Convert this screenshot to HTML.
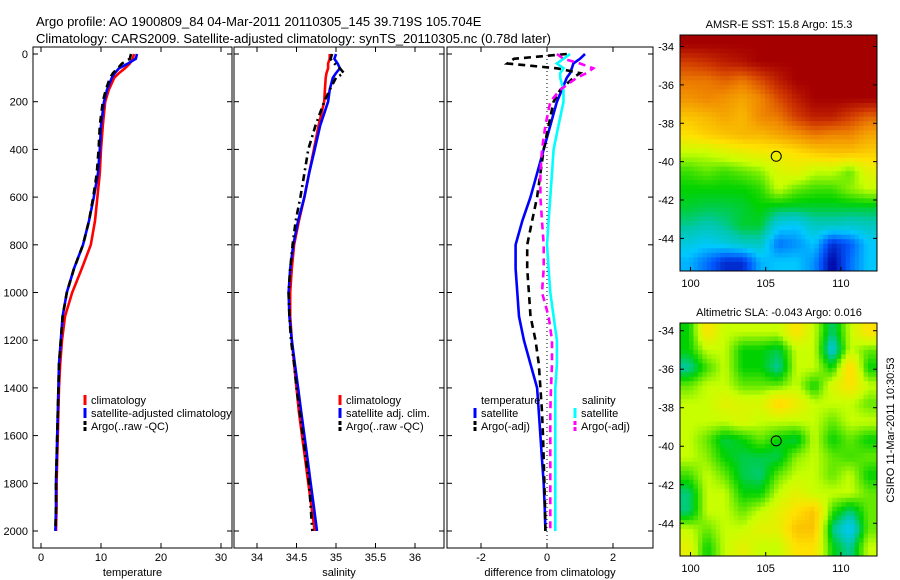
<!DOCTYPE html>
<html><head><meta charset="utf-8"><style>
body{margin:0;background:#fff}
svg{display:block;font-family:"Liberation Sans",sans-serif}
</style></head><body>
<svg id="c" width="900" height="580" xmlns="http://www.w3.org/2000/svg">
<text x="36" y="26" font-size="13">Argo profile: AO 1900809_84 04-Mar-2011 20110305_145 39.719S 105.704E</text>
<text x="36" y="43" font-size="13">Climatology: CARS2009. Satellite-adjusted climatology: synTS_20110305.nc (0.78d later)</text>
<text x="779" y="28" font-size="11" text-anchor="middle">AMSR-E SST: 15.8 Argo: 15.3</text>
<text x="779" y="316" font-size="11" text-anchor="middle">Altimetric SLA: -0.043 Argo: 0.016</text>
<text transform="translate(894,430) rotate(-90)" font-size="11" text-anchor="middle">CSIRO 11-Mar-2011 10:30:53</text>
<text x="327" y="518" font-size="11">US ARGO PROJECT</text>
<text x="327" y="531" font-size="11">PI: DEAN ROEMMICH</text>
</svg>
<script>
const depths=[0,20,40,60,80,100,150,200,300,400,500,600,700,800,900,1000,1100,1200,1300,1400,1500,1600,1700,1800,1900,2000];
const tempClim=[15.5,15.3,14.8,14,13,12.2,11.3,10.7,10.3,10,9.8,9.4,9,8.3,6.8,5.2,4,3.5,3.2,3,2.9,2.8,2.7,2.6,2.6,2.5];
const tempSat=[16,15.8,14.5,13,12.3,11.8,11,10.5,10,9.8,9.5,8.8,8,7,5.5,4.3,3.6,3.3,3,2.9,2.8,2.7,2.6,2.5,2.5,2.4];
const tempArgo=[15,14.8,13.5,12.8,12,11.5,10.8,10.3,9.8,9.6,9.3,8.7,8,7,5.5,4.3,3.6,3.3,3,2.9,2.8,2.7,2.6,2.5,2.5,2.4];
const salClim=[34.92,34.92,34.9,34.9,34.88,34.87,34.86,34.85,34.78,34.72,34.66,34.6,34.53,34.47,34.44,34.42,34.42,34.44,34.47,34.5,34.53,34.57,34.61,34.65,34.69,34.73];
const salSat=[35.0,34.98,35.02,35.05,35.0,34.96,34.92,34.9,34.8,34.73,34.66,34.6,34.52,34.46,34.42,34.4,34.41,34.44,34.48,34.52,34.56,34.6,34.64,34.68,34.72,34.76];
const salArgo=[34.95,34.93,34.98,35.05,35.1,35.0,34.92,34.85,34.74,34.65,34.6,34.55,34.49,34.45,34.42,34.4,34.41,34.43,34.47,34.5,34.54,34.58,34.62,34.66,34.68,34.7];
const dTempSat=[1.15,1.0,0.8,0.75,0.7,0.6,0.45,0.3,0.1,-0.1,-0.3,-0.5,-0.75,-0.95,-0.95,-0.9,-0.85,-0.7,-0.5,-0.3,-0.25,-0.2,-0.15,-0.1,-0.07,-0.05];
const dTempArgo=[0.6,-1.0,-1.2,0.3,1.0,0.8,0.4,0.2,0.05,-0.1,-0.2,-0.3,-0.45,-0.6,-0.6,-0.55,-0.5,-0.35,-0.25,-0.2,-0.15,-0.12,-0.1,-0.08,-0.06,-0.05];
const dSalSat=[0.7,0.5,0.3,0.5,0.4,0.4,0.5,0.5,0.35,0.2,0.15,0.1,0.05,0.0,0.05,0.1,0.2,0.3,0.3,0.25,0.25,0.25,0.25,0.25,0.25,0.25];
const dSalArgo=[0.3,0.5,1.0,1.4,1.2,0.9,0.4,0.1,-0.05,-0.15,-0.2,-0.2,-0.15,-0.1,-0.1,-0.15,0.05,0.15,0.15,0.12,0.1,0.1,0.1,0.1,0.1,0.1];
const depthTicks=[0,200,400,600,800,1000,1200,1400,1600,1800,2000];
const tempTicks=[0,10,20,30];
const salTicks=[34,34.5,35,35.5,36];
const diffTicks=[-2,0,2];
const sstGrid=[
[1,1,1,1,1,1,1,1,1,1,1],
[.9,.92,.95,.97,1,1,1,1,1,1,1],
[.82,.82,.85,.82,.88,.95,1,1,1,1,1],
[.78,.8,.78,.75,.8,.88,.95,1,1,1,1],
[.7,.72,.75,.72,.8,.82,.9,.95,.95,.9,.85],
[.65,.68,.7,.72,.72,.75,.78,.82,.8,.8,.75],
[.55,.55,.58,.6,.62,.62,.65,.68,.7,.7,.68],
[.48,.5,.48,.5,.52,.58,.6,.55,.55,.5,.6],
[.45,.45,.45,.45,.47,.55,.5,.48,.48,.52,.55],
[.43,.42,.42,.43,.45,.43,.43,.43,.43,.43,.43],
[.39,.37,.39,.43,.43,.32,.3,.36,.36,.35,.36],
[.33,.31,.33,.36,.36,.22,.25,.3,.15,.2,.3],
[.28,.22,.15,.15,.28,.3,.3,.25,.1,.22,.3]];
const slaGrid=[
[.45,.65,.55,.55,.55,.55,.65,.55,.4,.55,.65],
[.45,.55,.55,.45,.45,.42,.55,.55,.33,.55,.5],
[.38,.48,.55,.45,.45,.38,.55,.55,.45,.68,.45],
[.5,.55,.55,.5,.5,.5,.55,.45,.58,.65,.55],
[.55,.55,.6,.58,.58,.68,.62,.55,.55,.55,.5],
[.55,.55,.55,.58,.55,.55,.55,.55,.5,.55,.55],
[.55,.5,.42,.45,.5,.45,.42,.55,.45,.5,.45],
[.55,.52,.45,.42,.42,.42,.52,.55,.5,.48,.5],
[.48,.55,.5,.42,.4,.5,.55,.55,.5,.55,.45],
[.4,.55,.55,.45,.45,.55,.6,.55,.55,.55,.5],
[.4,.55,.55,.5,.55,.6,.65,.7,.48,.4,.5],
[.55,.5,.55,.55,.6,.6,.7,.7,.4,.3,.5],
[.6,.45,.55,.6,.55,.55,.65,.65,.45,.38,.55]];
const lonTicks=[100,105,110];
const latTicks=[-34,-36,-38,-40,-42,-44];
const argoLon=105.7, argoLat=-39.72;

const svg=document.getElementById('c');
const NS='http://www.w3.org/2000/svg';
function mk(tag,attrs,parent){const e=document.createElementNS(NS,tag);for(const k in attrs)e.setAttribute(k,attrs[k]);(parent||svg).appendChild(e);return e;}
const Y=d=>54+d*(531-54)/2000;
const panels=[
 {x0:33,x1:232,sx:v=>41+v*6,ticks:tempTicks,label:'temperature',name:'temperature-panel'},
 {x0:234,x1:444,sx:v=>257+(v-34)*79,ticks:salTicks,label:'salinity',name:'salinity-panel'},
 {x0:447,x1:653,sx:v=>547+v*33,ticks:diffTicks,label:'difference from climatology',name:'difference-panel'}];
panels.forEach((p,i)=>{
 const g=mk('g',{});
 
 
 mk('rect',{x:p.x0,y:47,width:p.x1-p.x0,height:501,fill:'#fff',stroke:'#000','stroke-width':1},g);
 p.ticks.forEach(t=>{const x=p.sx(t);
  mk('line',{x1:x,x2:x,y1:548,y2:543,stroke:'#000'},g);mk('line',{x1:x,x2:x,y1:47,y2:52,stroke:'#000'},g);
  const tx=mk('text',{x:x,y:561,'font-size':11,'text-anchor':'middle'},g);tx.textContent=t;
  
  });
 const lb=mk('text',{x:(p.x0+p.x1)/2,y:576,'font-size':11,'text-anchor':'middle'},g);lb.textContent=p.label;
 
 
 depthTicks.forEach(d=>{const y=Y(d);
  mk('line',{x1:p.x0,x2:p.x0+5,y1:y,y2:y,stroke:'#000'},g);mk('line',{x1:p.x1,x2:p.x1-5,y1:y,y2:y,stroke:'#000'},g);
  if(i===0){const t=mk('text',{x:28,y:y+4,'font-size':11,'text-anchor':'end'},g);t.textContent=d;
   
   }});
});
function line(arr,sx,color,dash,name){
 const pts=arr.map((v,i)=>sx(v).toFixed(1)+','+Y(depths[i]).toFixed(1)).join(' ');
 const e=mk('polyline',{points:pts,fill:'none',stroke:color,'stroke-width':2.6,'stroke-dasharray':dash||'none'});
 
 
}
const s0=panels[0].sx,s1=panels[1].sx,s2=panels[2].sx;
line(tempClim,s0,'#f00',null,'temp-climatology-line');
line(tempSat,s0,'#00f',null,'temp-satellite-line');
line(tempArgo,s0,'#000','7,5','temp-argo-line');
line(salClim,s1,'#f00',null,'sal-climatology-line');
line(salSat,s1,'#00f',null,'sal-satellite-line');
line(salArgo,s1,'#000','7,4,2,4','sal-argo-line');
mk('line',{x1:547,x2:547,y1:47,y2:548,stroke:'#000','stroke-dasharray':'1,3'});
line(dTempSat,s2,'#00f',null,'diff-temp-satellite-line');
line(dTempArgo,s2,'#000','7,5','diff-temp-argo-line');
line(dSalSat,s2,'#0ff',null,'diff-sal-satellite-line');
line(dSalArgo,s2,'#f0f','7,5','diff-sal-argo-line');
function legend(x,y,items,name){const g=mk('g',{});
 items.forEach((it,i)=>{const yy=y+i*13;
  if(it[0])mk('line',{x1:x,x2:x,y1:yy-9,y2:yy+1,stroke:it[0],'stroke-width':3,'stroke-dasharray':it[1]?'4,2':'none'},g);
  const t=mk('text',{x:x+6,y:yy,'font-size':11},g);t.textContent=it[2];});}
legend(85,404,[['#f00',0,'climatology'],['#00f',0,'satellite-adjusted climatology'],['#000',1,'Argo(..raw -QC)']],'temp-legend');
legend(340,404,[['#f00',0,'climatology'],['#00f',0,'satellite adj. clim.'],['#000',1,'Argo(..raw -QC)']],'sal-legend');
legend(475,404,[[null,0,''],['#00f',0,'satellite'],['#000',1,'Argo(-adj)']],'diff-temp-legend');
legend(575,404,[[null,0,''],['#0ff',0,'satellite'],['#f0f',1,'Argo(-adj)']],'diff-sal-legend');
let t=mk('text',{x:481,y:404,'font-size':11});t.textContent='temperature';
t=mk('text',{x:582,y:404,'font-size':11});t.textContent='salinity';
const stops=[[0,[0,0,120]],[0.1,[0,0,160]],[0.2,[0,90,255]],[0.3,[0,200,255]],[0.38,[0,200,170]],[0.45,[0,210,0]],[0.55,[200,255,0]],[0.65,[255,225,0]],[0.8,[240,135,0]],[0.9,[210,60,0]],[1,[165,0,0]],[1.01,[165,0,0]]];
function cmap(v){v=Math.max(0,Math.min(1,v));
 for(let i=0;i<stops.length-1;i++){const a=stops[i],b=stops[i+1];
  if(v<=b[0]){const f=(v-a[0])/(b[0]-a[0]);return 'rgb('+a[1].map((c,k)=>Math.round(c+(b[1][k]-c)*f)).join(',')+')';}}
 return 'rgb(165,0,0)';}
function sample(grid,fy,fx){const R=grid.length,C=grid[0].length;
 const y=Math.max(0,Math.min(R-1,fy)),x=Math.max(0,Math.min(C-1,fx));
 const y0=Math.floor(y),x0=Math.floor(x),y1=Math.min(R-1,y0+1),x1=Math.min(C-1,x0+1),dy=y-y0,dx=x-x0;
 return grid[y0][x0]*(1-dx)*(1-dy)+grid[y0][x1]*dx*(1-dy)+grid[y1][x0]*(1-dx)*dy+grid[y1][x1]*dx*dy;}
function map(grid,x0,y0,w,h,latTop,latBot,name){
 const g=mk('g',{});
 const rows=grid.length,cols=grid[0].length,N=4;
 const cw=w/(cols*N),ch=h/(rows*N);
 for(let r=0;r<rows*N;r++)for(let c=0;c<cols*N;c++){
  const v=sample(grid,(r+0.5)/N-0.5,(c+0.5)/N-0.5);
  mk('rect',{x:(x0+c*cw).toFixed(2),y:(y0+r*ch).toFixed(2),width:(cw+0.5).toFixed(2),height:(ch+0.5).toFixed(2),fill:cmap(v)},g);}
 mk('rect',{x:x0,y:y0,width:w,height:h,fill:'none',stroke:'#000'},g);
 const lx=lon=>x0+(lon-99.3)*w/(112.4-99.3);
 const ly=lat=>y0+(latTop-lat)*h/(latTop-latBot);
 lonTicks.forEach(l=>{const x=lx(l);mk('line',{x1:x,x2:x,y1:y0+h,y2:y0+h-4,stroke:'#000'},g);
  const t=mk('text',{x:x,y:y0+h+16,'font-size':11,'text-anchor':'middle'},g);t.textContent=l;});
 latTicks.forEach(l=>{const y=ly(l);mk('line',{x1:x0,x2:x0+4,y1:y,y2:y,stroke:'#000'},g);mk('line',{x1:x0+w,x2:x0+w-4,y1:y,y2:y,stroke:'#000'},g);
  const t=mk('text',{x:x0-6,y:y+4,'font-size':11,'text-anchor':'end'},g);t.textContent=l;});
 const m=mk('circle',{cx:lx(argoLon),cy:ly(argoLat),r:5,fill:'none',stroke:'#000'},g);
 
 
}
map(sstGrid,680,35,197,236,-33.4,-45.7,'sst-map');
map(slaGrid,680,323,197,233,-33.6,-45.7,'sla-map');
</script>
</body></html>
